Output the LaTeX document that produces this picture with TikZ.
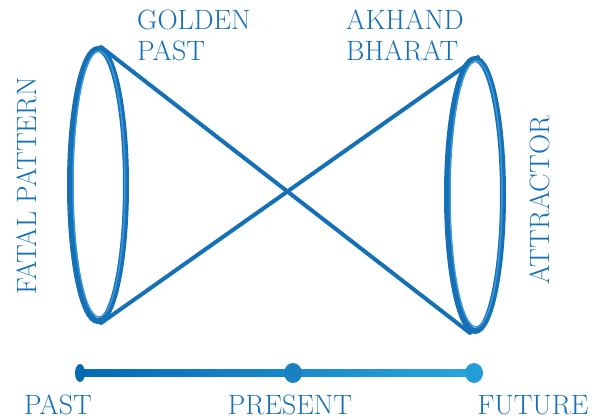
\documentclass[tikz,border=0pt]{standalone}
\definecolor{rimblue}{RGB}{22,112,182}
\definecolor{lightrim}{RGB}{60,150,215}
\definecolor{darkline}{RGB}{5,105,180}
\definecolor{paleline}{RGB}{40,165,222}
\tikzset{
  tag/.style={text=rimblue, inner sep=0pt, font=\fontsize{28}{31}\selectfont},
  rim/.style={draw=rimblue, line width=6pt},
  ray/.style={draw=rimblue, line width=4pt, line cap=round}
}
\begin{document}
\begin{tikzpicture}[x=1pt,y=1pt]
    \useasboundingbox (0,0) rectangle (592,418);

    %cone ends
    \coordinate (lt) at (101,371);
    \coordinate (lb) at (101,95);
    \coordinate (rt) at (478,361);
    \coordinate (rb) at (470,85);

    %crossing rays
    \draw[ray] (lt) -- (rb);
    \draw[ray] (lb) -- (rt);

    %rims
    \draw[rim] (98,233) ellipse (28 and 136);
    \draw[lightrim, line width=1.5pt] (99,234) ellipse (26 and 133);
    \draw[rim] (475,223) ellipse (28 and 136);
    \draw[lightrim, line width=1.5pt] (476,224) ellipse (26 and 133);

    %time line
    \coordinate (past) at (80,45);
    \coordinate (present) at (293,45);
    \coordinate (future) at (474,45);
    \shade[left color=darkline, right color=paleline] (80,41.5) rectangle (474,48.5);
    \fill[darkline] (past) ellipse (5 and 9);
    \fill[rimblue!70!paleline] (present) ellipse (9 and 10);
    \fill[paleline!85!darkline] (future) ellipse (9 and 10);

    %labels
    \node[tag, anchor=base] at (58,4) {PAST};
    \node[tag, anchor=base] at (290,4) {PRESENT};
    \node[tag, anchor=base] at (533,4) {FUTURE};
    \node[tag, align=left, anchor=north west] at (137,408) {GOLDEN\\PAST};
    \node[tag, align=left, anchor=north west] at (346,408) {AKHAND\\BHARAT};
    \node[tag, rotate=90] at (27,232) {FATAL PATTERN};
    \node[tag, rotate=90] at (540,218) {ATTRACTOR};
\end{tikzpicture}
\end{document}
